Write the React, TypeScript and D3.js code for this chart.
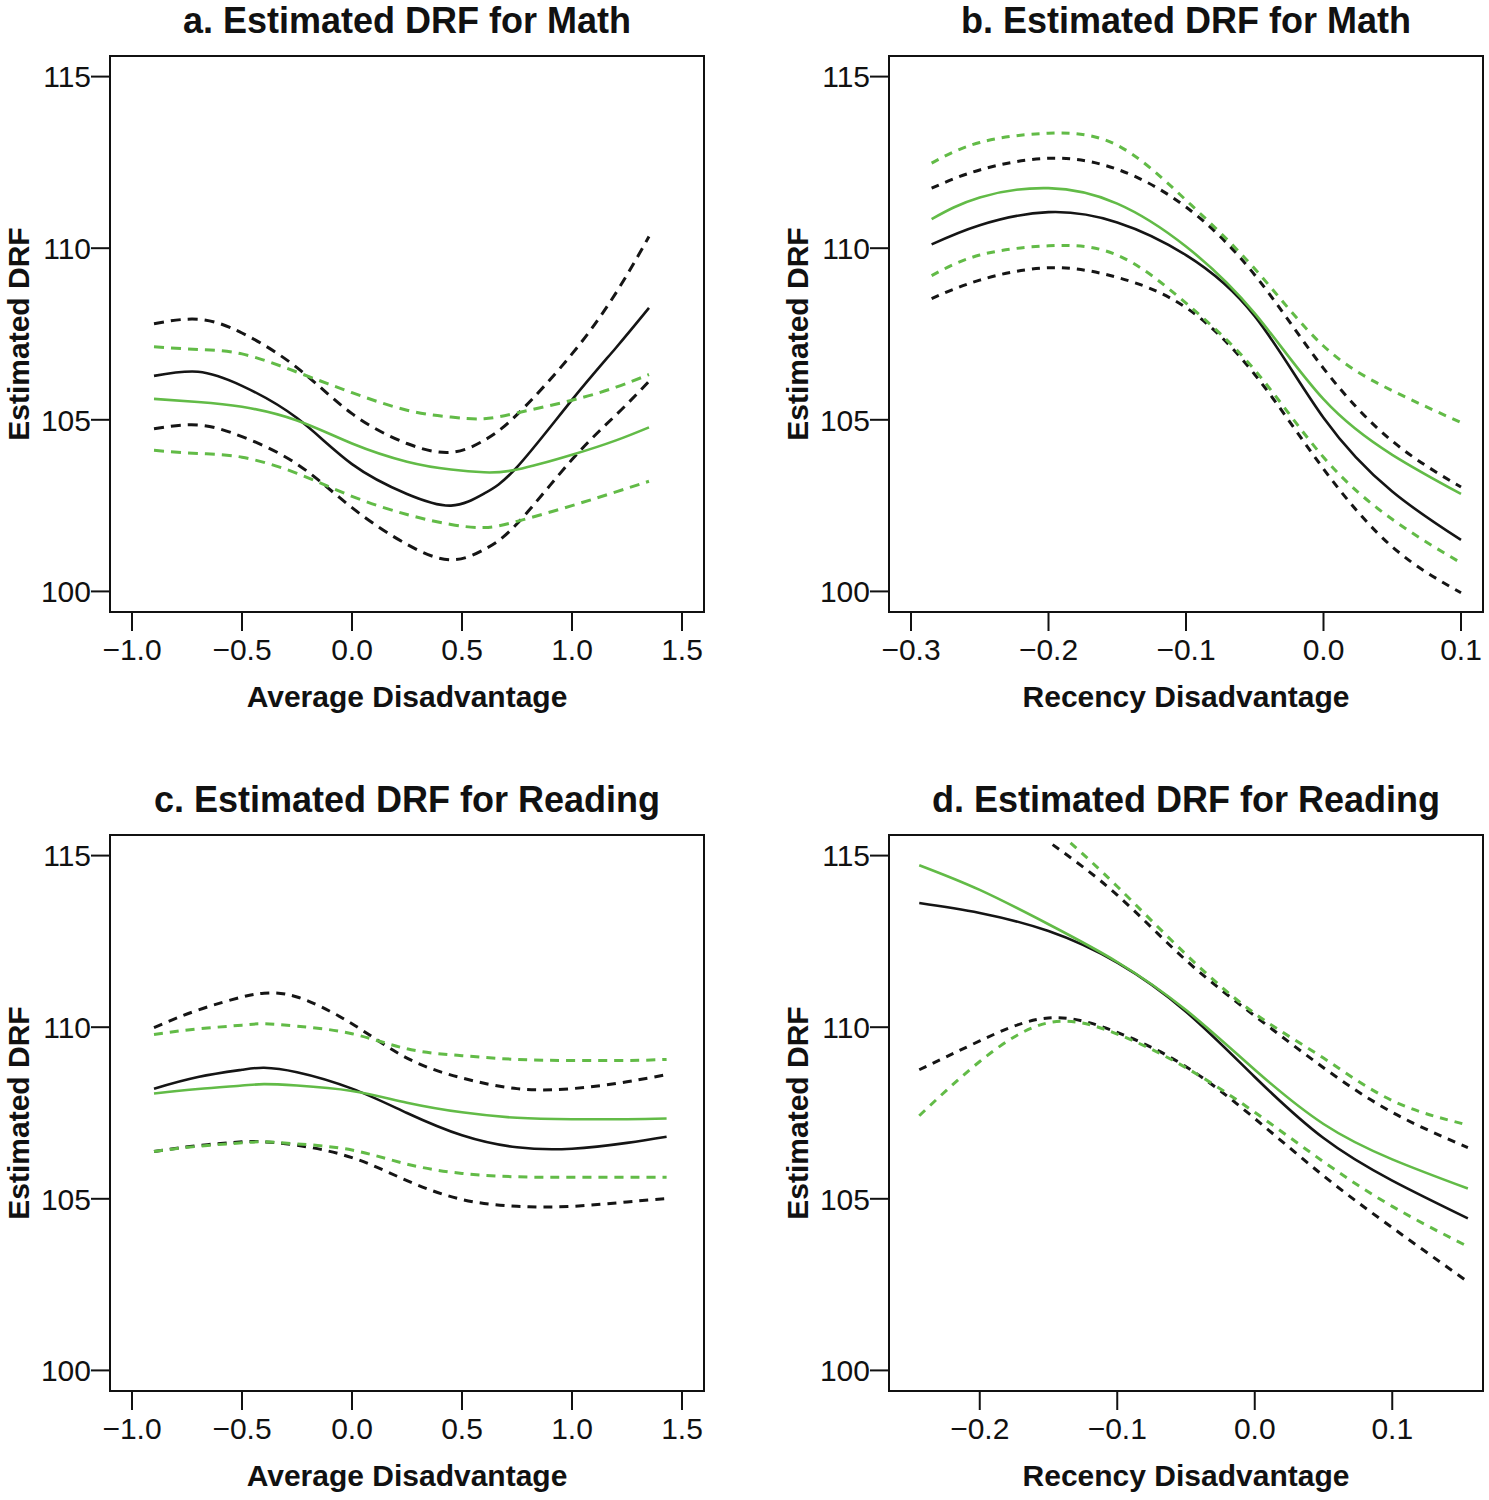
import * as d3 from "d3";

const Y_TICKS = [100, 105, 110, 115];
const AVG_X_TICKS = [-1.0, -0.5, 0.0, 0.5, 1.0, 1.5];
const REC_B_X_TICKS = [-0.3, -0.2, -0.1, 0.0, 0.1];
const REC_D_X_TICKS = [-0.2, -0.1, 0.0, 0.1];

// a. Math, average disadvantage
const A_X = [-0.9, -0.7, -0.5, -0.25, 0, 0.25, 0.45, 0.6, 0.75, 1.0, 1.2, 1.35];
const A_BLACK = [106.28, 106.4, 105.99, 105.05, 103.71, 102.84, 102.5, 102.85, 103.62, 105.58, 107.1, 108.26];
const A_BLACK_HI = [107.8, 107.93, 107.53, 106.52, 105.18, 104.31, 104.05, 104.4, 105.15, 106.92, 108.7, 110.34];
const A_BLACK_LO = [104.74, 104.85, 104.51, 103.71, 102.44, 101.37, 100.92, 101.22, 101.97, 103.84, 105.14, 106.12];
const A_GREEN = [105.61, 105.52, 105.38, 104.98, 104.31, 103.78, 103.55, 103.47, 103.55, 103.98, 104.4, 104.78];
const A_GREEN_HI = [107.13, 107.05, 106.92, 106.39, 105.79, 105.28, 105.08, 105.03, 105.2, 105.57, 105.95, 106.32];
const A_GREEN_LO = [104.11, 104.02, 103.91, 103.44, 102.77, 102.24, 101.95, 101.86, 102.04, 102.5, 102.9, 103.21];

// b. Math, recency disadvantage
const B_X = [-0.285, -0.25, -0.2, -0.15, -0.1, -0.05, 0, 0.05, 0.1];
const B_BLACK = [110.11, 110.67, 111.05, 110.75, 109.8, 108.02, 105.06, 102.91, 101.5];
const B_BLACK_HI = [111.75, 112.28, 112.62, 112.3, 111.2, 109.22, 106.5, 104.38, 103.04];
const B_BLACK_LO = [108.53, 109.07, 109.43, 109.15, 108.27, 106.32, 103.57, 101.3, 99.96];
const B_GREEN = [110.85, 111.48, 111.75, 111.3, 110.05, 108.1, 105.6, 103.98, 102.84];
const B_GREEN_HI = [112.48, 113.08, 113.35, 113.0, 111.4, 109.4, 107.15, 105.85, 104.92];
const B_GREEN_LO = [109.2, 109.8, 110.07, 109.8, 108.4, 106.45, 103.91, 102.1, 100.83];

// c. Reading, average disadvantage
const C_X = [-0.9, -0.7, -0.5, -0.4, -0.25, 0, 0.25, 0.5, 0.75, 1.0, 1.25, 1.43];
const C_BLACK = [108.21, 108.55, 108.76, 108.82, 108.69, 108.21, 107.5, 106.85, 106.5, 106.46, 106.63, 106.81];
const C_BLACK_HI = [109.99, 110.5, 110.88, 110.99, 110.88, 110.1, 109.1, 108.52, 108.21, 108.21, 108.41, 108.62];
const C_BLACK_LO = [106.38, 106.55, 106.66, 106.66, 106.56, 106.2, 105.53, 104.98, 104.78, 104.78, 104.91, 105.01];
const C_GREEN = [108.07, 108.2, 108.3, 108.34, 108.3, 108.14, 107.8, 107.52, 107.36, 107.32, 107.32, 107.34];
const C_GREEN_HI = [109.79, 109.95, 110.06, 110.1, 110.03, 109.81, 109.37, 109.17, 109.06, 109.03, 109.03, 109.06];
const C_GREEN_LO = [106.38, 106.53, 106.63, 106.66, 106.6, 106.42, 106.01, 105.74, 105.64, 105.63, 105.63, 105.63];

// d. Reading, recency disadvantage
const D_X = [-0.244, -0.2, -0.15, -0.1, -0.05, 0, 0.05, 0.1, 0.155];
const D_BLACK = [113.62, 113.33, 112.8, 111.88, 110.45, 108.55, 106.77, 105.53, 104.43];
const D_BLACK_LO = [108.76, 109.6, 110.27, 109.85, 108.85, 107.34, 105.67, 104.16, 102.58];
const D_GREEN = [114.72, 114.0, 113.0, 111.9, 110.5, 108.76, 107.18, 106.15, 105.3];
const D_GREEN_LO = [107.42, 109.0, 110.13, 109.8, 108.82, 107.52, 106.08, 104.78, 103.61];
const D_BLACK_HI_X = [-0.147, -0.1, -0.05, 0, 0.05, 0.1, 0.155];
const D_BLACK_HI = [115.32, 113.85, 111.95, 110.33, 108.82, 107.52, 106.49];
const D_GREEN_HI_X = [-0.134, -0.1, -0.05, 0, 0.05, 0.1, 0.155];
const D_GREEN_HI = [115.37, 114.1, 112.12, 110.4, 109.1, 107.86, 107.15];

const BLACK = "#151515";
const GREEN = "#62bb47";
const FONT = "'Liberation Sans', Arial, Helvetica, sans-serif";

const BOX_W = 594;
const BOX_H = 556;
const COL_LEFT = [110, 889];
const ROW_TOP = [56, 835];
const Y_DOMAIN: [number, number] = [99.4, 115.6];

interface Series {
  x: number[];
  y: number[];
  color: string;
  dashed: boolean;
}

function band(x: number[], est: number[], hi: number[], lo: number[], color: string, hiX = x): Series[] {
  return [
    { x: hiX, y: hi, color, dashed: true },
    { x, y: lo, color, dashed: true },
    { x, y: est, color, dashed: false },
  ];
}

const PANELS = [
  {
    title: "a. Estimated DRF for Math",
    xLabel: "Average Disadvantage",
    xDomain: [-1.1, 1.6] as [number, number],
    xTicks: AVG_X_TICKS,
    col: 0,
    row: 0,
    dash: "10 7",
    series: [...band(A_X, A_BLACK, A_BLACK_HI, A_BLACK_LO, BLACK), ...band(A_X, A_GREEN, A_GREEN_HI, A_GREEN_LO, GREEN)],
  },
  {
    title: "b. Estimated DRF for Math",
    xLabel: "Recency Disadvantage",
    xDomain: [-0.316, 0.116] as [number, number],
    xTicks: REC_B_X_TICKS,
    col: 1,
    row: 0,
    dash: "8 7",
    series: [...band(B_X, B_BLACK, B_BLACK_HI, B_BLACK_LO, BLACK), ...band(B_X, B_GREEN, B_GREEN_HI, B_GREEN_LO, GREEN)],
  },
  {
    title: "c. Estimated DRF for Reading",
    xLabel: "Average Disadvantage",
    xDomain: [-1.1, 1.6] as [number, number],
    xTicks: AVG_X_TICKS,
    col: 0,
    row: 1,
    dash: "9 7",
    series: [...band(C_X, C_BLACK, C_BLACK_HI, C_BLACK_LO, BLACK), ...band(C_X, C_GREEN, C_GREEN_HI, C_GREEN_LO, GREEN)],
  },
  {
    title: "d. Estimated DRF for Reading",
    xLabel: "Recency Disadvantage",
    xDomain: [-0.266, 0.166] as [number, number],
    xTicks: REC_D_X_TICKS,
    col: 1,
    row: 1,
    dash: "8 7",
    series: [
      ...band(D_X, D_BLACK, D_BLACK_HI, D_BLACK_LO, BLACK, D_BLACK_HI_X),
      ...band(D_X, D_GREEN, D_GREEN_HI, D_GREEN_LO, GREEN, D_GREEN_HI_X),
    ],
  },
];

const fmtX = (v: number) => (v < 0 ? "\u2212" : "") + d3.format(".1f")(Math.abs(v));

function Panel({ p, idx }: { p: (typeof PANELS)[number]; idx: number }) {
  const left = COL_LEFT[p.col];
  const top = ROW_TOP[p.row];
  const x = d3.scaleLinear().domain(p.xDomain).range([left, left + BOX_W]);
  const y = d3.scaleLinear().domain(Y_DOMAIN).range([top + BOX_H, top]);
  const line = d3
    .line<[number, number]>()
    .x((d) => x(d[0]))
    .y((d) => y(d[1]))
    .curve(d3.curveNatural);
  const cx = left + BOX_W / 2;
  const cy = top + BOX_H / 2;
  const clipId = `clip-${idx}`;

  return (
    <g>
      <defs>
        <clipPath id={clipId}>
          <rect x={left} y={top} width={BOX_W} height={BOX_H} />
        </clipPath>
      </defs>
      <text x={cx} y={top - 23} textAnchor="middle" fontSize={36} fontWeight="bold" fill="#111">
        {p.title}
      </text>
      <g clipPath={`url(#${clipId})`}>
        {p.series.map((s, i) => (
          <path
            key={i}
            d={line(s.x.map((xv, j) => [xv, s.y[j]] as [number, number])) || ""}
            fill="none"
            stroke={s.color}
            strokeWidth={s.dashed ? 3 : 2.6}
            strokeDasharray={s.dashed ? p.dash : undefined}
          />
        ))}
      </g>
      <rect x={left} y={top} width={BOX_W} height={BOX_H} fill="none" stroke="#111" strokeWidth={2} />
      {Y_TICKS.map((t) => (
        <g key={t}>
          <line x1={left - 19} x2={left} y1={y(t)} y2={y(t)} stroke="#111" strokeWidth={2} />
          <text x={left - 19} y={y(t)} dy="0.36em" textAnchor="end" fontSize={30} fill="#111">
            {t}
          </text>
        </g>
      ))}
      {p.xTicks.map((t) => (
        <g key={t}>
          <line x1={x(t)} x2={x(t)} y1={top + BOX_H} y2={top + BOX_H + 19} stroke="#111" strokeWidth={2} />
          <text x={x(t)} y={top + BOX_H + 48} textAnchor="middle" fontSize={30} fill="#111">
            {fmtX(t)}
          </text>
        </g>
      ))}
      <text x={cx} y={top + BOX_H + 95} textAnchor="middle" fontSize={30} fontWeight="bold" fill="#111">
        {p.xLabel}
      </text>
      <text
        transform={`translate(${left - 81},${cy}) rotate(-90)`}
        textAnchor="middle"
        fontSize={30}
        fontWeight="bold"
        fill="#111"
      >
        Estimated DRF
      </text>
    </g>
  );
}

export default function App() {
  return (
    <>
      <style>{`body{margin:0}`}</style>
      <svg width={1489} height={1500} viewBox="0 0 1489 1500" style={{ display: "block", fontFamily: FONT }}>
        <rect width={1489} height={1500} fill="#fff" />
        {PANELS.map((p, i) => (
          <Panel key={i} p={p} idx={i} />
        ))}
      </svg>
    </>
  );
}
